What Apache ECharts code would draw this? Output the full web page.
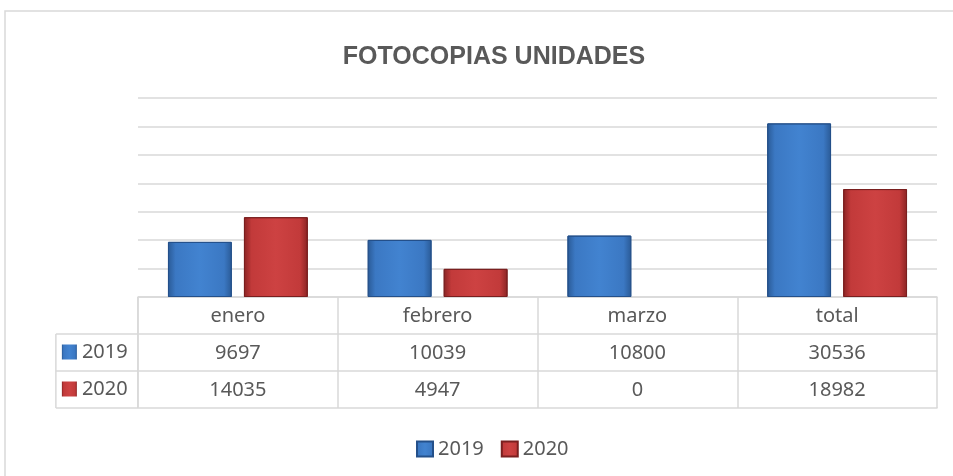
<!DOCTYPE html>
<html>
<head>
<meta charset="utf-8">
<title>FOTOCOPIAS UNIDADES</title>
<script src="https://cdn.jsdelivr.net/npm/echarts@6/dist/echarts.min.js"></script>
<style>
  html, body { margin: 0; padding: 0; background: #fff; }
  #main { width: 953px; height: 476px; }
</style>
</head>
<body>
<div id="main"></div>
<script>
const categories = ["enero", "febrero", "marzo", "total"];
const years = ["2019", "2020"];
const values2019 = [9697, 10039, 10800, 30536];
const values2020 = [14035, 4947, 0, 18982];

const textColor = "#595959";
const lineColor = "#d9d9d9";
const tableFont = "'Noto Sans', sans-serif";

// alto de las filas de la tabla de datos
const rowHeight = 37;

function barColor(dark, mid, light) {
  return new echarts.graphic.LinearGradient(0, 0, 1, 0, [
    { offset: 0, color: dark },
    { offset: 0.12, color: mid },
    { offset: 0.5, color: light },
    { offset: 0.88, color: mid },
    { offset: 1, color: dark }
  ]);
}
const blue = barColor("#2a5a96", "#3b78c3", "#4283d0");
const red = barColor("#8a2424", "#c23a3a", "#cd4242");

// las barras en cero no se dibujan (sin borde)
const barData = (values) => values.map(v => (v === 0 ? { value: v, itemStyle: { borderWidth: 0 } } : v));

const myChart = echarts.init(document.getElementById("main"));

const tableAxis = (data, offset, showLabel) => ({
  type: "category",
  data: data,
  position: "bottom",
  offset: offset,
  axisLine: { show: true, lineStyle: { color: lineColor, width: 1.5 } },
  axisTick: { show: false },
  axisLabel: {
    show: showLabel,
    interval: 0,
    margin: 8,
    fontSize: 20,
    lineHeight: 22,
    fontFamily: tableFont,
    color: textColor
  },
  splitLine: { show: false }
});

const option = {
  animation: false,
  title: {
    text: "FOTOCOPIAS UNIDADES",
    left: 489,
    textAlign: "center",
    top: 40,
    textStyle: {
      fontFamily: "'Liberation Sans Narrow', 'Liberation Sans', sans-serif",
      fontWeight: "bold",
      fontSize: 25,
      color: textColor
    }
  },
  legend: {
    data: years,
    left: 416,
    top: 439,
    padding: 0,
    icon: "rect",
    itemWidth: 16,
    itemHeight: 15,
    itemGap: 17,
    textStyle: { fontSize: 20, fontFamily: tableFont, color: textColor }
  },
  grid: {
    left: 138,
    right: 16,
    top: 98,
    bottom: 179
  },
  xAxis: [
    {
      type: "category",
      data: categories,
      position: "bottom",
      axisLine: { show: true, lineStyle: { color: lineColor, width: 1.5 } },
      axisTick: {
        show: true,
        interval: 0,
        length: rowHeight * 3,
        lineStyle: { color: lineColor, width: 1.5 }
      },
      axisLabel: {
        interval: 0,
        margin: 8,
        fontSize: 20,
        lineHeight: 22,
        fontFamily: tableFont,
        color: textColor
      }
    },
    tableAxis(values2019.map(String), rowHeight, true),
    tableAxis(values2020.map(String), rowHeight * 2, true),
    tableAxis(categories, rowHeight * 3, false)
  ],
  yAxis: {
    type: "value",
    min: 0,
    max: 35000,
    interval: 5000,
    axisLine: { show: false },
    axisTick: { show: false },
    axisLabel: { show: false },
    splitLine: { lineStyle: { color: lineColor, width: 1.5 } }
  },
  series: [
    {
      name: years[0],
      type: "bar",
      data: barData(values2019),
      barGap: "19%",
      barCategoryGap: "30%",
      itemStyle: { color: blue, borderColor: "#24508a", borderWidth: 1 }
    },
    {
      name: years[1],
      type: "bar",
      data: barData(values2020),
      itemStyle: { color: red, borderColor: "#7a1f1f", borderWidth: 1 }
    }
  ]
};

myChart.setOption(option);

// columna de leyenda de la tabla (2019 / 2020)
function drawRowLabels() {
  const base = myChart.convertToPixel({ yAxisIndex: 0 }, 0);
  const left = myChart.convertToPixel({ xAxisIndex: 0 }, categories[0]) - 100;
  const colLeft = left - 82;
  const els = [];
  const line = (x1, y1, x2, y2) => ({
    type: "line",
    shape: { x1: x1, y1: y1, x2: x2, y2: y2 },
    style: { stroke: lineColor, lineWidth: 1.5 },
    silent: true
  });
  for (let r = 1; r <= 3; r++) {
    els.push(line(colLeft, base + rowHeight * r, left, base + rowHeight * r));
  }
  els.push(line(colLeft, base + rowHeight, colLeft, base + rowHeight * 3));
  els.push(line(left, base, left, base + rowHeight * 3));
  [blue, red].forEach((c, i) => {
    const cy = base + rowHeight * (i + 1) + rowHeight / 2;
    els.push({
      type: "rect",
      shape: { x: colLeft + 6, y: cy - 8, width: 15, height: 15 },
      style: { fill: c },
      silent: true
    });
    els.push({
      type: "text",
      x: colLeft + 26,
      y: cy,
      style: {
        text: years[i],
        fontSize: 20,
        fontFamily: tableFont,
        fill: textColor,
        verticalAlign: "middle"
      },
      silent: true
    });
  });
  // borde exterior del gráfico
  els.push({
    type: "rect",
    shape: { x: 5, y: 11, width: 1000, height: 520 },
    style: { fill: "none", stroke: lineColor, lineWidth: 1.5 },
    silent: true
  });
  myChart.setOption({ graphic: els });
}
drawRowLabels();
</script>
</body>
</html>
